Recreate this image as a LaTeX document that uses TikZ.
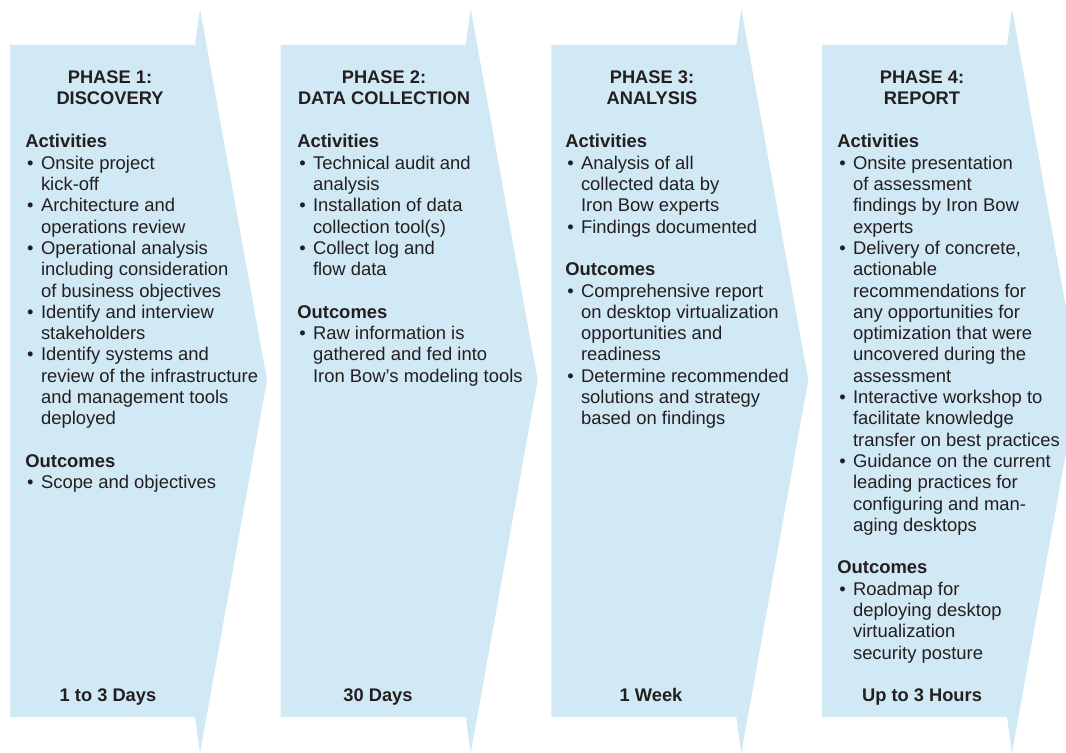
\documentclass[tikz,border=0pt]{standalone}
\usepackage{fontspec}
\setmainfont{Liberation Sans}

\definecolor{phasefill}{RGB}{209,232,245}
\definecolor{phaseink}{RGB}{35,31,32}

\newcommand{\bul}{\hspace*{1.4pt}\makebox[9.8pt][l]{\textbullet}}
\newcommand{\hang}{\hspace*{11.2pt}}

\tikzset{
  phase/.style={fill=phasefill,draw=none},
  head/.style={text=phaseink,font=\fontsize{13}{15.15}\selectfont\bfseries,align=center,inner sep=0pt,anchor=base},
  body/.style={text=phaseink,font=\fontsize{13.1}{15.15}\selectfont,align=left,inner sep=0pt,anchor=base west},
  span/.style={text=phaseink,font=\fontsize{13}{15.15}\selectfont\bfseries,inner sep=0pt,anchor=base}
}

\begin{document}
\begin{tikzpicture}[x=0.025cm,y=-0.025cm]
\useasboundingbox (0,0) rectangle (1066,753);
\clip (0,0) rectangle (1066,753);

% arrow panels:
\foreach \l in {10,280.7,551.3,822}
  \path[phase] (\l,45) -- (\l+185,45) -- (\l+190,9) -- (\l+257,380)
    -- (\l+190,753) -- (\l+185,717) -- (\l,717) -- cycle;

% phase 1 (nodes sit on the baseline of their last line):
\node[head] (headA) at (110,105) {PHASE 1:\\DISCOVERY};
\node[body] (bodyA) at (25,488.8) {\textbf{Activities}\\
\bul Onsite project\\
\hang kick-off\\
\bul Architecture and\\
\hang operations review\\
\bul Operational analysis\\
\hang including consideration\\
\hang of business objectives\\
\bul Identify and interview\\
\hang stakeholders\\
\bul Identify systems and\\
\hang review of the infrastructure\\
\hang and management tools\\
\hang deployed\\[15.15pt]
\textbf{Outcomes}\\
\bul Scope and objectives};
\node[span] (timeA) at (108,701) {1 to 3 Days};

% phase 2:
\node[head] (headB) at (384,105) {PHASE 2:\\DATA COLLECTION};
\node[body] (bodyB) at (297,382.3) {\textbf{Activities}\\
\bul Technical audit and\\
\hang analysis\\
\bul Installation of data\\
\hang collection tool(s)\\
\bul Collect log and\\
\hang flow data\\[15.15pt]
\textbf{Outcomes}\\
\bul Raw information is\\
\hang gathered and fed into\\
\hang Iron Bow’s modeling tools};
\node[span] (timeB) at (378,701) {30 Days};

% phase 3:
\node[head] (headC) at (652,105) {PHASE 3:\\ANALYSIS};
\node[body] (bodyC) at (565,424.9) {\textbf{Activities}\\
\bul Analysis of all\\
\hang collected data by\\
\hang Iron Bow experts\\
\bul Findings documented\\[15.15pt]
\textbf{Outcomes}\\
\bul Comprehensive report\\
\hang on desktop virtualization\\
\hang opportunities and\\
\hang readiness\\
\bul Determine recommended\\
\hang solutions and strategy\\
\hang based on findings};
\node[span] (timeC) at (651,701) {1 Week};

% phase 4:
\node[head] (headD) at (922,105) {PHASE 4:\\REPORT};
\node[body] (bodyD) at (837,659.2) {\textbf{Activities}\\
\bul Onsite presentation\\
\hang of assessment\\
\hang findings by Iron Bow\\
\hang experts\\
\bul Delivery of concrete,\\
\hang actionable\\
\hang recommendations for\\
\hang any opportunities for\\
\hang optimization that were\\
\hang uncovered during the\\
\hang assessment\\
\bul Interactive workshop to\\
\hang facilitate knowledge\\
\hang transfer on best practices\\
\bul Guidance on the current\\
\hang leading practices for\\
\hang configuring and man-\\
\hang aging desktops\\[15.15pt]
\textbf{Outcomes}\\
\bul Roadmap for\\
\hang deploying desktop\\
\hang virtualization\\
\hang security posture};
\node[span] (timeD) at (922,701) {Up to 3 Hours};

\end{tikzpicture}
\end{document}
